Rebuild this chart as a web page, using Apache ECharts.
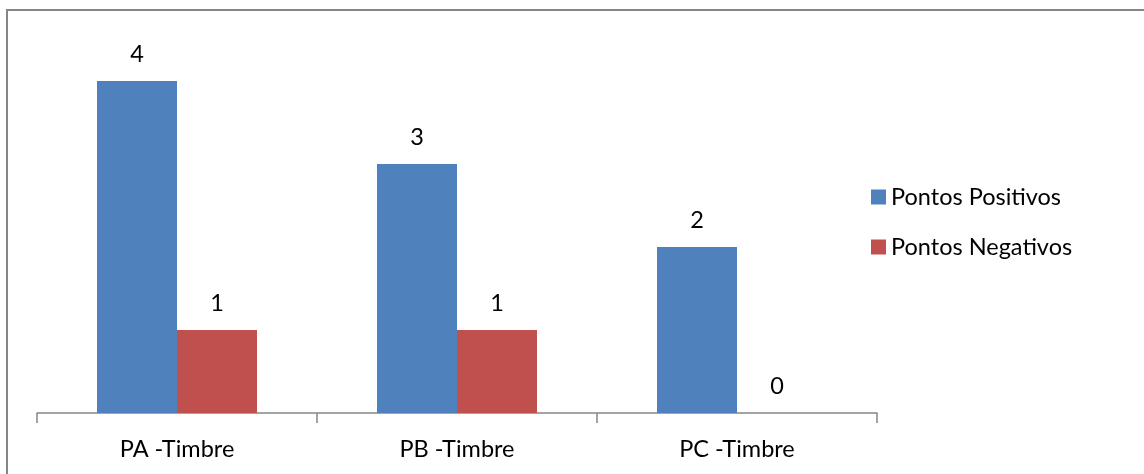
<!DOCTYPE html>
<html>
<head>
<meta charset="utf-8">
<script src="https://cdn.jsdelivr.net/npm/echarts@6/dist/echarts.min.js"></script>
<style>
  html, body { margin: 0; padding: 0; background: #ffffff; }
  #chart { width: 1144px; height: 474px; }
</style>
</head>
<body>
<div id="chart"></div>
<script>
// Categories and values
const categories = ['PA -Timbre', 'PB -Timbre', 'PC -Timbre'];
const seriesNames = ['Pontos Positivos', 'Pontos Negativos'];
const positivos = [4, 3, 2];
const negativos = [1, 1, 0];

const FONT = 'Lato';
const FS = 23.5;

const chart = echarts.init(document.getElementById('chart'), null, { renderer: 'canvas' });

chart.setOption({
  animation: false,
  backgroundColor: '#ffffff',
  textStyle: { fontFamily: FONT, color: '#000000' },
  graphic: [{
    type: 'rect',
    shape: { x: 7, y: 10, width: 1150, height: 480 },
    style: { fill: 'none', stroke: '#868686', lineWidth: 2 },
    silent: true
  }],
  legend: {
    orient: 'vertical',
    left: 866,
    top: 180,
    itemWidth: 15,
    itemHeight: 15,
    itemGap: 26,
    icon: 'rect',
    textStyle: { fontFamily: FONT, fontSize: FS, color: '#000000' },
    data: seriesNames
  },
  grid: { left: 37, right: 267, top: 39.5, bottom: 61, containLabel: false },
  xAxis: {
    type: 'category',
    data: categories,
    axisLine: { lineStyle: { color: '#868686', width: 1.5 } },
    axisTick: { show: true, length: 10, lineStyle: { color: '#868686', width: 1.5 } },
    axisLabel: { fontFamily: FONT, fontSize: FS, color: '#000000', margin: 24 }
  },
  yAxis: {
    type: 'value',
    min: 0,
    max: 4.5,
    interval: 0.5,
    show: false,
    splitLine: { show: false }
  },
  series: [
    {
      name: seriesNames[0],
      type: 'bar',
      data: positivos,
      barGap: '0%',
      barCategoryGap: '42.86%',
      itemStyle: { color: '#4F81BD' },
      label: { show: true, position: 'top', distance: 15, fontFamily: FONT, fontSize: FS, color: '#000000' }
    },
    {
      name: seriesNames[1],
      type: 'bar',
      data: negativos,
      barGap: '0%',
      barCategoryGap: '42.86%',
      itemStyle: { color: '#C0504D' },
      label: { show: true, position: 'top', distance: 15, fontFamily: FONT, fontSize: FS, color: '#000000' }
    }
  ]
});
</script>
</body>
</html>
